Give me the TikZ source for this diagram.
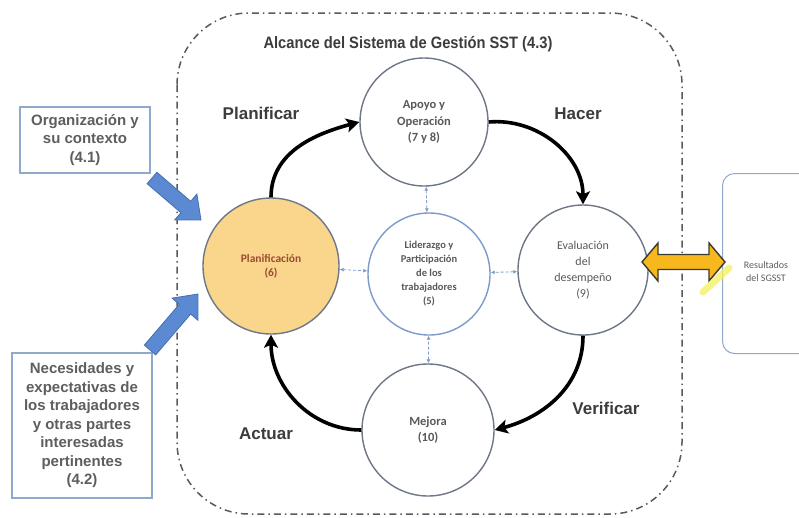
\documentclass[tikz,border=0pt]{standalone}
\usepackage{fontspec}
\usetikzlibrary{arrows.meta,calc}
\setmainfont{Liberation Sans}
\newfontfamily\calfont{Carlito}

\definecolor{ringgray}{HTML}{6E7787}
\definecolor{lidblue}{HTML}{7D9BC9}
\definecolor{planfill}{HTML}{FAD68C}
\definecolor{plantext}{HTML}{9A4B32}
\definecolor{inblue}{HTML}{5B8AD3}
\definecolor{inblueline}{HTML}{4470B0}
\definecolor{gold}{HTML}{F6B81C}
\definecolor{goldline}{HTML}{3A3A2E}
\definecolor{boxline}{HTML}{8FA9CC}
\definecolor{labelgray}{HTML}{3C3C3C}
\definecolor{textgray}{HTML}{5E5E5E}
\definecolor{circtext}{HTML}{595959}
\definecolor{scopegray}{HTML}{5A5A5A}
\definecolor{marker}{HTML}{F4F060}

% single block arrow: tail, tip, half shaft, half head, head length, style
\newcommand\blockarrow[6]{%
  \coordinate (ba-h) at ($(#2)!#5!(#1)$);
  \draw[#6] ($(#1)!#3!90:(#2)$) -- ($(ba-h)!#3!90:(#2)$) -- ($(ba-h)!#4!90:(#2)$)
    -- (#2) -- ($(ba-h)!#4!-90:(#2)$) -- ($(ba-h)!#3!-90:(#2)$)
    -- ($(#1)!#3!-90:(#2)$) -- cycle;}
% double block arrow: end, end, half shaft, half head, head length, style
\newcommand\dblarrow[6]{%
  \coordinate (da-a) at ($(#1)!#5!(#2)$);
  \coordinate (da-b) at ($(#2)!#5!(#1)$);
  \draw[#6] (#1) -- ($(da-a)!#4!90:(#2)$) -- ($(da-a)!#3!90:(#2)$)
    -- ($(da-b)!#3!90:(#2)$) -- ($(da-b)!#4!90:(#2)$) -- (#2)
    -- ($(da-b)!#4!-90:(#2)$) -- ($(da-b)!#3!-90:(#2)$)
    -- ($(da-a)!#3!-90:(#2)$) -- ($(da-a)!#4!-90:(#2)$) -- cycle;}

\tikzset{
  stage/.style={circle, draw=ringgray, line width=1.4pt, minimum size=#1,
    inner sep=0pt, align=center, text=circtext},
  stagefont/.style={font={\calfont\bfseries\fontsize{12.5}{16.5}\selectfont}},
  inbox/.style={draw=boxline, line width=1.3pt, align=center, inner sep=0pt,
    text=textgray, font={\bfseries\fontsize{15}{18.5}\selectfont}},
  phase/.style={text=labelgray, font={\bfseries\fontsize{17}{20}\selectfont}},
  cycle/.style={line width=3.6pt, black,
    -{Stealth[length=13pt,width=14pt,inset=3pt]}},
  link/.style={lidblue, line width=0.8pt, dash pattern=on 3pt off 2pt,
    {Latex[length=4pt,width=4pt]}-{Latex[length=4pt,width=4pt]}},
  scopeline/.style={scopegray, line width=1.5pt, rounded corners=72pt,
    dash pattern=on 7pt off 4pt on 1.5pt off 4pt},
  inarrow/.style={fill=inblue, draw=inblueline, line width=0.8pt},
  outarrow/.style={fill=gold, draw=goldline, line width=1.4pt, line join=miter}
}

\begin{document}
\begin{tikzpicture}[x=1pt,y=-1pt]
\useasboundingbox (0,0) rectangle (799,517);
\clip (0,0) rectangle (799,517);
\fill[white] (0,0) rectangle (799,517);

% scope of the management system
\draw[scopeline] (177,13) rectangle (682,514);
\node[text=labelgray, font={\bfseries\fontsize{16.5}{20}\selectfont}] (scope) at (408,44)
  {\scalebox{0.89}[1]{Alcance del Sistema de Gestión SST (4.3)}};

% PHVA stages
\node[stage=128pt, stagefont] (apoyo) at (424,122) {Apoyo y\\Operación\\(7 y 8)};
\node[stage=122pt, draw=lidblue, font={\calfont\bfseries\fontsize{10.5}{14}\selectfont}]
  (lider) at (429,274) {Liderazgo y\\Participación\\de los\\trabajadores\\(5)};
\node[stage=136pt, fill=planfill, text=plantext,
  font={\calfont\bfseries\fontsize{11.5}{14}\selectfont}] (plan) at (271,266) {Planificación\\(6)};
\node[stage=130pt, font={\calfont\fontsize{12}{16}\selectfont}] (eval) at (583,270)
  {Evaluación\\del\\desempeño\\(9)};
\node[stage=132pt, stagefont] (mejora) at (428,430) {Mejora\\(10)};

% cycle
\draw[cycle] (plan.north) to[out=90,in=195] (apoyo.west);
\draw[cycle] (apoyo.east) to[out=5,in=90] (eval.north);
\draw[cycle] (eval.south) to[out=-90,in=15] (mejora.east);
\draw[cycle] (mejora.west) to[out=180,in=-90] (plan.south);

\node[phase] (lplan) at (261,113) {Planificar};
\node[phase] (lhacer) at (578,114) {Hacer};
\node[phase] (lver) at (606,408) {Verificar};
\node[phase] (lact) at (266,434) {Actuar};

% leadership links
\draw[link] (apoyo) -- (lider);
\draw[link] (plan) -- (lider);
\draw[link] (eval) -- (lider);
\draw[link] (mejora) -- (lider);

% inputs
\node[inbox, minimum width=130pt, minimum height=66pt] (org) at (85,140)
  {Organización y\\su contexto\\(4.1)};
\node[inbox, minimum width=140pt, minimum height=145pt] (nec) at (82,425.5)
  {Necesidades y\\expectativas de\\los trabajadores\\y otras partes\\interesadas\\pertinentes\\(4.2)};
\coordinate (in1s) at (152,178);
\coordinate (in1e) at (201,220);
\coordinate (in2s) at (150,350);
\coordinate (in2e) at (198,294);
\blockarrow{in1s}{in1e}{7.5pt}{17pt}{20pt}{inarrow}
\blockarrow{in2s}{in2e}{7.5pt}{17pt}{20pt}{inarrow}

% outputs
\node[draw=boxline, line width=1pt, rounded corners=12pt, minimum width=95pt,
  minimum height=180pt, anchor=north west] (resbox) at (722,173) {};
\node[text=textgray, align=center, font={\calfont\fontsize{10}{13}\selectfont}]
  (res) at (766,272) {Resultados\\del SGSST};
\coordinate (outa) at (642,262);
\coordinate (outb) at (725,262);
\dblarrow{outa}{outb}{7.5pt}{19pt}{16pt}{outarrow}
\coordinate (mk1) at (703,292);
\coordinate (mk2) at (729,268);
\draw[marker, opacity=0.75, line width=7pt, line cap=round] (mk1) -- (mk2);
\end{tikzpicture}
\end{document}
